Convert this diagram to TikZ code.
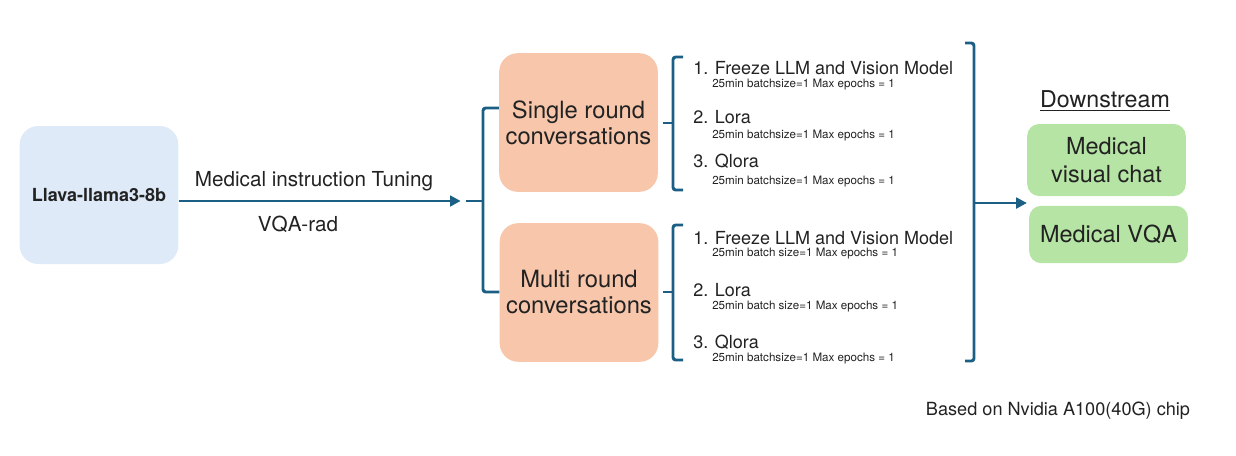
\documentclass[tikz,border=0pt]{standalone}
\usepackage{fontspec}
\setmainfont{TeX Gyre Heros}
\usetikzlibrary{arrows.meta}
\definecolor{edgeblue}{HTML}{1B5F85}
\definecolor{modelblue}{HTML}{DEEAF7}
\definecolor{convorange}{HTML}{F7C6AB}
\definecolor{taskgreen}{HTML}{B5E4A4}
\definecolor{textgrey}{HTML}{222222}
\tikzset{
    box/.style={rounded corners=14pt, align=center, text=textgrey, minimum width=119pt, inner sep=0pt},
    model/.style={box, fill=modelblue, minimum height=103.5pt, font=\fontsize{13.5}{16}\selectfont\bfseries},
    conv/.style={box, fill=convorange, minimum height=104pt, font=\fontsize{17.8}{19.5}\selectfont},
    task/.style={box, rounded corners=9pt, fill=taskgreen, font=\fontsize{17.6}{21}\selectfont},
    brace/.style={draw=edgeblue, line width=2.2pt, rounded corners=2pt},
    flow/.style={draw=edgeblue, line width=2.2pt, -{Triangle[length=8pt,width=8pt]}},
    item/.style={anchor=west, inner sep=0pt, text=textgrey, font=\fontsize{13.5}{16}\selectfont},
    note/.style={anchor=west, inner sep=0pt, text=textgrey, font=\fontsize{8.7}{10}\selectfont},
    label/.style={inner sep=0pt, text=textgrey, font=\fontsize{15.5}{18}\selectfont}
}
\begin{document}
\begin{tikzpicture}[x=0.75pt, y=-0.75pt]
    \useasboundingbox (0, 0) rectangle (1236, 455);
    \node (llava) at (99, 195) [model] {Llava-llama3-8b};
    \node (single) at (578.5, 122.5) [conv] {Single round\\conversations};
    \node (multi) at (579, 292.5) [conv] {Multi round\\conversations};
    \node (chat) at (1106.5, 160) [task, minimum height=54pt] {Medical\\visual chat};
    \node (vqa) at (1108.5, 234.5) [task, minimum height=43pt] {Medical VQA};
    \node (down) at (1105, 101) [label, font=\fontsize{17.4}{20}\selectfont] {\underline{Downstream}};
    \node (tuning) at (314, 181) [label] {Medical instruction Tuning};
    \node (vqarad) at (298, 224) [label] {VQA-rad};
    \node (chip) at (1058, 411) [label, font=\fontsize{13.6}{16}\selectfont] {Based on Nvidia A100(40G) chip};
    % single round items
    \node (s1) at (693, 68) [item] {1. Freeze LLM and Vision Model};
    \node (s1n) at (712, 85) [note] {25min batchsize=1 Max epochs = 1};
    \node (s2) at (693, 117) [item] {2. Lora};
    \node (s2n) at (712, 136) [note] {25min batchsize=1 Max epochs = 1};
    \node (s3) at (693, 161) [item] {3. Qlora};
    \node (s3n) at (712, 182) [note] {25min batchsize=1 Max epochs = 1};
    % multi round items
    \node (m1) at (693, 238) [item] {1. Freeze LLM and Vision Model};
    \node (m1n) at (712, 254) [note] {25min batch size=1 Max epochs = 1};
    \node (m2) at (693, 290) [item] {2. Lora};
    \node (m2n) at (712, 307) [note] {25min batch size=1 Max epochs = 1};
    \node (m3) at (693, 342) [item] {3. Qlora};
    \node (m3n) at (712, 359) [note] {25min batchsize=1 Max epochs = 1};
    % braces
    \coordinate (tip) at (466, 201);
    \coordinate (stip) at (663, 123);
    \coordinate (mtip) at (663, 292);
    \coordinate (out) at (974, 203);
    \draw[brace] (single.west |- 0, 108) -- (483, 108) -- (483, 292) -- (multi.west |- 0, 292);
    \draw[brace] (tip) -- (483, 201);
    \draw[brace] (683, 57) -- (673, 57) -- (673, 190) -- (683, 190);
    \draw[brace] (stip) -- (673, 123);
    \draw[brace] (683, 225) -- (673, 225) -- (673, 360) -- (683, 360);
    \draw[brace] (mtip) -- (673, 292);
    \draw[brace] (965, 43) -- (974, 43) -- (974, 361) -- (965, 361);
    \draw[flow] (llava.east |- tip) -- ([xshift=-4pt]tip);
    \draw[flow] (out) -- (chat.west |- out);
\end{tikzpicture}
\end{document}
